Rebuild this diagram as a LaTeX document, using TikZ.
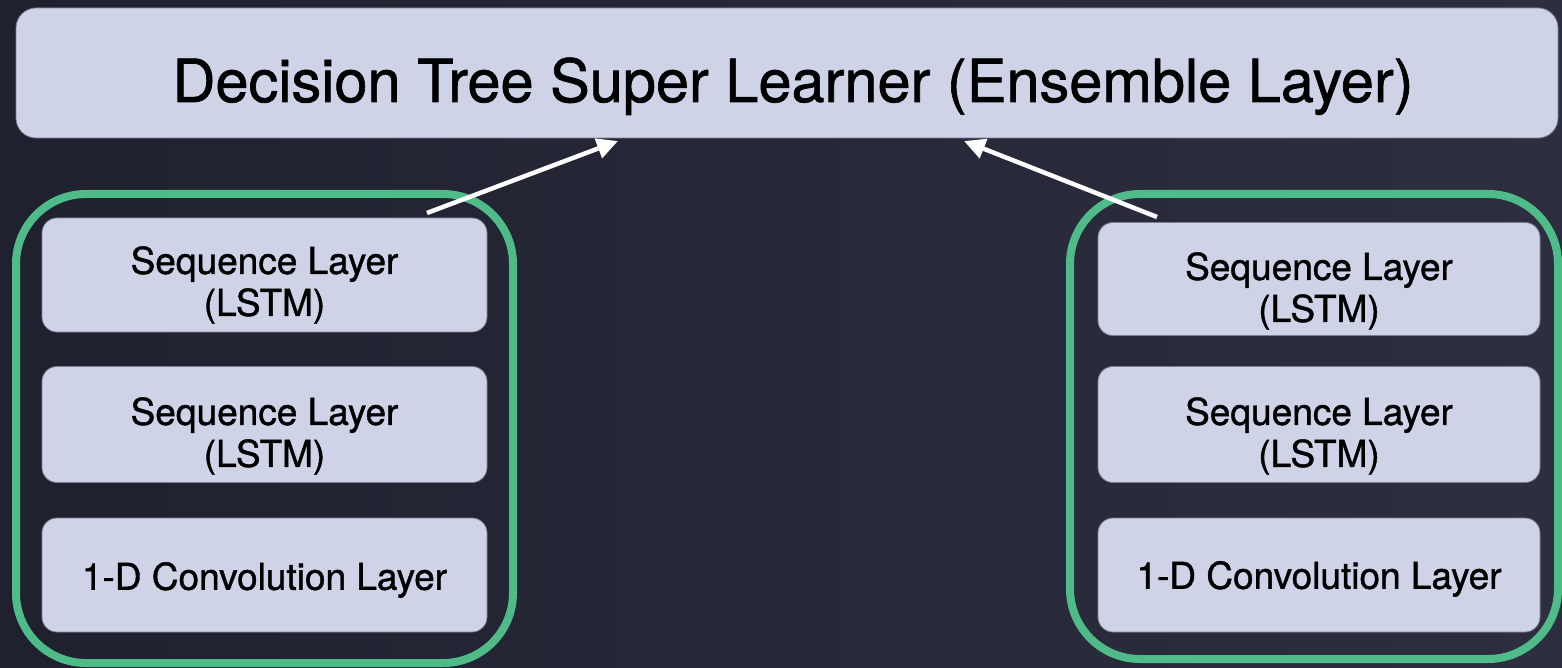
\documentclass[tikz,border=0pt]{standalone}
\usepackage{fontspec}
\setmainfont{TeX Gyre Heros}
\newfontfamily\heavyface[FakeBold=1.1]{TeX Gyre Heros}
\usetikzlibrary{arrows.meta}
\definecolor{bgl}{HTML}{1F212E}
\definecolor{bgr}{HTML}{2D2F41}
\definecolor{boxfill}{HTML}{CFD3E8}
\definecolor{boxline}{HTML}{7C7F92}
\definecolor{grp}{HTML}{4FBB89}
\begin{document}
\begin{tikzpicture}[x=1pt,y=-1pt,
  layerbox/.style={draw=boxline, line width=0.8pt, fill=boxfill,
    rounded corners=15pt, minimum width=445pt, minimum height=114pt,
    inner sep=0pt},
  lbl/.style={align=center, inner sep=0pt, text=black,
    font=\heavyface\fontsize{37}{42}\selectfont},
  topbox/.style={draw=boxline, line width=0.8pt, fill=boxfill,
    rounded corners=20pt, minimum width=1542pt, minimum height=130pt,
    inner sep=0pt},
  group/.style={draw=grp, line width=8pt, rounded corners=70pt, inner sep=0pt},
  flow/.style={draw=white, line width=4.5pt,
    -{Triangle[length=21pt,width=20pt]}}]

  % page and background
  \useasboundingbox (0,0) rectangle (1562,668);
  \shade[left color=bgl, right color=bgr] (0,0) rectangle (1562,668);

  % ensemble layer
  \node[topbox] (top) at (787,73) {};
  \node[anchor=base, font=\heavyface\fontsize{59.5}{70}\selectfont, text=black, inner sep=0pt]
    (toptext) at (793,102) {Decision Tree Super Learner (Ensemble Layer)};

  % left model
  \node[group, minimum width=497pt, minimum height=469pt] (lgrp) at (264.5,428.5) {};
  \node[layerbox] (l1) at (264.5,275) {};
  \node[layerbox, minimum height=116pt] (l2) at (264.5,424.5) {};
  \node[layerbox] (l3) at (264.5,575) {};
  \node[lbl] (l1t) at ([yshift=-10pt]l1.center) {Sequence Layer\\(LSTM)};
  \node[lbl] (l2t) at ([yshift=-11.5pt]l2.center) {Sequence Layer\\(LSTM)};
  \node[lbl] (l3t) at ([yshift=-5pt]l3.center) {1-D Convolution Layer};

  % right model
  \node[group, minimum width=488pt, minimum height=465pt] (rgrp) at (1314,426.5) {};
  \node[layerbox, minimum width=442pt, minimum height=113pt] (r1) at (1319,279) {};
  \node[layerbox, minimum width=442pt, minimum height=116pt] (r2) at (1319,424.5) {};
  \node[layerbox, minimum width=442pt] (r3) at (1319,575) {};
  \node[lbl] (r1t) at ([yshift=-12pt]r1.center) {Sequence Layer\\(LSTM)};
  \node[lbl] (r2t) at ([yshift=-11.5pt]r2.center) {Sequence Layer\\(LSTM)};
  \node[lbl] (r3t) at ([yshift=-4pt]r3.center) {1-D Convolution Layer};

  % outputs into the super learner
  \coordinate (ltail) at (427,213);
  \coordinate (lhead) at (618,141);
  \coordinate (rtail) at (1157,217);
  \coordinate (rhead) at (964,141);
  \draw[flow] (ltail) -- (lhead);
  \draw[flow] (rtail) -- (rhead);
\end{tikzpicture}
\end{document}
